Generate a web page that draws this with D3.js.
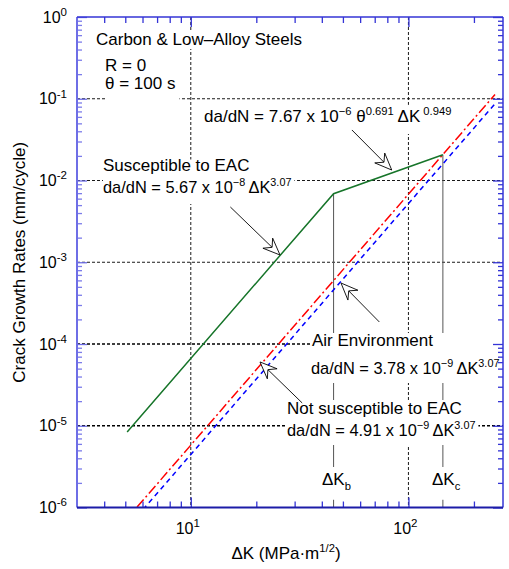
<!DOCTYPE html>
<html><head><meta charset="utf-8">
<script src="https://cdn.jsdelivr.net/npm/d3@7"></script>
<style>
body{margin:0;background:#fff}
svg{display:block}
text{font-family:"Liberation Sans",Arial,Helvetica,sans-serif;fill:#000;white-space:pre}
</style>
</head><body>
<svg id="c" width="509" height="569"></svg>
<script>
// ---------------- data ----------------
const xMajorTicks = [10, 100];
const xTickLabels = [["10", "1"], ["10", "2"]];
const xMinorTicks = [4, 5, 6, 7, 8, 9, 20, 30, 40, 50, 60, 70, 80, 90, 200];
const yMajorTicks = [1e-6, 1e-5, 1e-4, 1e-3, 1e-2, 1e-1, 1];
const yTickLabels = [["10", "-6"], ["10", "-5"], ["10", "-4"], ["10", "-3"], ["10", "-2"], ["10", "-1"], ["10", "0"]];
const yMinorMult = [2, 3, 4, 5, 6, 7, 8, 9];
const gridX = [10, 100];
const gridY = [1e-1, 1e-2, 1e-3, 1e-4, 1e-5];

// Air environment (blue dashed)
const airDK = [5, 250];
const airRate = [5.3e-7, 0.0869];
// Not susceptible to EAC (red dash-dot)
const notSusDK = [5, 250];
const notSusRate = [6.9e-7, 0.113];
// Susceptible to EAC (green), with the time-based segment
const susDK = [5.1, 45.3, 144];
const susRate = [8.4e-6, 6.9e-3, 2.07e-2];
const dKb = 45.3, dKc = 144;

// arrows: [tailDK, tailRate, tipDK, tipRate]
const arrows = [
  [55.0, 0.0415, 83.8, 0.01343],
  [15.2, 4.74e-3, 25.7, 1.227e-3],
  [73.5, 1.86e-4, 49.0, 5.57e-4],
  [32.5, 1.90e-5, 20.8, 6.03e-5]
];

// ---------------- layout ----------------
const svg = d3.select("#c");
const L = 77, R = 503, T = 17, B = 507.5;
const x = d3.scaleLog().domain([3, 272]).range([L, R]);
const y = d3.scaleLog().domain([1e-6, 1]).range([B, T]);
const FS = 17, FF = 16.4;

function rich(sel, xx, yy, str, size, anchor, supScale) {
  const sc = supScale || 0.66;
  const t = sel.append("text").attr("x", xx).attr("y", yy)
    .attr("font-size", size).attr("text-anchor", anchor || "start");
  const re = /(\^|_)\{([^}]*)\}/g;
  let last = 0, m; const parts = [];
  while ((m = re.exec(str))) {
    if (m.index > last) parts.push({ t: str.slice(last, m.index), k: 0 });
    parts.push({ t: m[2], k: m[1] === "^" ? 1 : -1 });
    last = re.lastIndex;
  }
  if (last < str.length) parts.push({ t: str.slice(last), k: 0 });
  let cur = 0;
  parts.forEach(p => {
    const target = p.k === 1 ? -0.42 * size : (p.k === -1 ? 0.28 * size : 0);
    const ts = t.append("tspan").text(p.t).attr("dy", target - cur);
    if (p.k) ts.attr("font-size", size * sc);
    cur = target;
  });
  return t;
}

// ---------------- grid ----------------
const grid = svg.append("g");
grid.selectAll("line.gx").data(gridX).join("line")
  .attr("x1", d => x(d)).attr("x2", d => x(d)).attr("y1", T).attr("y2", B)
  .attr("stroke", "#000").attr("stroke-width", 0.9).attr("stroke-dasharray", "3,2");
grid.selectAll("line.gy").data(gridY).join("line")
  .attr("x1", L).attr("x2", R).attr("y1", d => y(d)).attr("y2", d => y(d))
  .attr("stroke", "#000").attr("stroke-width", d => d <= 1e-4 ? 1.5 : 0.9)
  .attr("stroke-dasharray", "3,2");

// vertical ΔKb / ΔKc markers
const marks = svg.append("g");
marks.append("line").attr("x1", x(dKb)).attr("x2", x(dKb)).attr("y1", y(susRate[1])).attr("y2", B)
  .attr("stroke", "#555").attr("stroke-width", 1);
marks.append("line").attr("x1", x(dKc)).attr("x2", x(dKc)).attr("y1", y(susRate[2])).attr("y2", B)
  .attr("stroke", "#555").attr("stroke-width", 1);

// ---------------- annotation boxes ----------------
const ann = svg.append("g");
function block(lines, pads) {
  const g = ann.append("g");
  lines.forEach(l => rich(g, l[0], l[1], l[2], l[3] || FS, l[4]));
  const b = g.node().getBBox();
  g.insert("rect", ":first-child")
    .attr("x", b.x - pads[3]).attr("y", b.y - pads[0])
    .attr("width", b.width + pads[1] + pads[3]).attr("height", b.height + pads[0] + pads[2])
    .attr("fill", "#fff");
  return g;
}
const TS = "\u2009";
block([[96, 45, "Carbon & Low\u2013Alloy Steels"]], [0, 2, 0, 2]);
block([[105, 71, "R = 0"], [105, 89, "\u03b8 = 100 s"]], [0, 4, 8, 0]);
block([[204, 122, "da/dN = 7.67 x 10^{\u22126} \u03b8^{0.691} \u0394K^{ 0.949}"]], [0, 3, 8, 2]);
block([[103, 170.5, "Susceptible to EAC"], [103, 193, "da/dN = 5.67 x 10^{\u22128}" + TS + "\u0394K^{3.07}", FF]], [-4, 3, 8, 0]);
block([[312, 346, "Air Environment"], [311, 374, "da/dN = 3.78 x 10^{\u22129}" + TS + "\u0394K^{3.07}", FF]], [-2, 6, 6, 1]);
block([[287, 414, "Not susceptible to EAC"], [287, 436, "da/dN = 4.91 x 10^{\u22129}" + TS + "\u0394K^{3.07}", FF]], [-1, 3, 6, 1]);
block([[322, 485, "\u0394K_{b}"]], [3, 2, 8, 2]);
block([[432, 485, "\u0394K_{c}"]], [3, 2, 8, 2]);

// ---------------- data lines ----------------
svg.append("clipPath").attr("id", "clip").append("rect")
  .attr("x", L).attr("y", T).attr("width", R - L).attr("height", B - T);
const line = d3.line().x(d => x(d[0])).y(d => y(d[1]));
const plot = svg.append("g").attr("clip-path", "url(#clip)");
plot.append("path").attr("d", line(d3.zip(airDK, airRate)))
  .attr("fill", "none").attr("stroke", "#0000ff").attr("stroke-width", 1.5)
  .attr("stroke-dasharray", "5,4");
plot.append("path").attr("d", line(d3.zip(notSusDK, notSusRate)))
  .attr("fill", "none").attr("stroke", "#ff0000").attr("stroke-width", 1.5)
  .attr("stroke-dasharray", "10,3,2,3");
plot.append("path").attr("d", line(d3.zip(susDK, susRate)))
  .attr("fill", "none").attr("stroke", "#17752a").attr("stroke-width", 1.5);

// ---------------- arrows ----------------
const ag = svg.append("g");
arrows.forEach(a => {
  const x0 = x(a[0]), y0 = y(a[1]), x1 = x(a[2]), y1 = y(a[3]);
  const ang = Math.atan2(y1 - y0, x1 - x0);
  const c = Math.cos(ang), s = Math.sin(ang);
  const P = (u, v) => [x1 + u * c - v * s, y1 + u * s + v * c];
  const notch = P(-11, 0);
  ag.append("line").attr("x1", x0).attr("y1", y0).attr("x2", notch[0]).attr("y2", notch[1])
    .attr("stroke", "#000").attr("stroke-width", 0.9);
  ag.append("polygon").attr("points", [P(0, 0), P(-17, -7), notch, P(-17, 7)].map(p => p.join(",")).join(" "))
    .attr("fill", "#fff").attr("stroke", "#000").attr("stroke-width", 0.9);
});

// ---------------- axes ----------------
const axCol = "#3434d6";
function styleAxis(g, col) {
  g.select(".domain").remove();
  g.selectAll("line").attr("stroke", col).attr("stroke-width", 1.3);
  g.selectAll("text").remove();
}
const yMinorTicks = [];
yMajorTicks.slice(0, -1).forEach(d => yMinorMult.forEach(k => yMinorTicks.push(d * k)));

// bottom
svg.append("g").attr("transform", `translate(0,${B})`)
  .call(d3.axisBottom(x).tickValues(xMajorTicks).tickSize(-10).tickFormat(""))
  .call(g => styleAxis(g, axCol));
svg.append("g").attr("transform", `translate(0,${B})`)
  .call(d3.axisBottom(x).tickValues(xMinorTicks).tickSize(-6).tickFormat(""))
  .call(g => styleAxis(g, axCol));
// top
svg.append("g").attr("transform", `translate(0,${T})`)
  .call(d3.axisTop(x).tickValues(xMajorTicks).tickSize(-10).tickFormat(""))
  .call(g => styleAxis(g, axCol));
svg.append("g").attr("transform", `translate(0,${T})`)
  .call(d3.axisTop(x).tickValues(xMinorTicks).tickSize(-6).tickFormat(""))
  .call(g => styleAxis(g, axCol));
// left
svg.append("g").attr("transform", `translate(${L},0)`)
  .call(d3.axisLeft(y).tickValues(yMajorTicks).tickSize(-10).tickFormat(""))
  .call(g => styleAxis(g, "#6e6ee6"));
svg.append("g").attr("transform", `translate(${L},0)`)
  .call(d3.axisLeft(y).tickValues(yMinorTicks).tickSize(-5).tickFormat(""))
  .call(g => styleAxis(g, "#7c7cea"));
// right
svg.append("g").attr("transform", `translate(${R},0)`)
  .call(d3.axisRight(y).tickValues(yMajorTicks).tickSize(-10).tickFormat(""))
  .call(g => styleAxis(g, axCol));
svg.append("g").attr("transform", `translate(${R},0)`)
  .call(d3.axisRight(y).tickValues(yMinorTicks).tickSize(-5).tickFormat(""))
  .call(g => styleAxis(g, axCol));

// frame
svg.append("line").attr("x1", L).attr("x2", L).attr("y1", T).attr("y2", B).attr("stroke", "#6e6ee6").attr("stroke-width", 2);
svg.append("line").attr("x1", L).attr("x2", R).attr("y1", T).attr("y2", T).attr("stroke", axCol).attr("stroke-width", 1.5);
svg.append("line").attr("x1", R).attr("x2", R).attr("y1", T).attr("y2", B).attr("stroke", axCol).attr("stroke-width", 1.5);
svg.append("line").attr("x1", L).attr("x2", R).attr("y1", B).attr("y2", B).attr("stroke", "#1c1ca8").attr("stroke-width", 2);

// tick labels
const TL = 16;
xMajorTicks.forEach((d, i) => {
  rich(svg, x(d) - 3, 534, xTickLabels[i][0] + "^{" + xTickLabels[i][1] + "}", TL, "middle", 0.72);
});
yMajorTicks.forEach((d, i) => {
  rich(svg, 67, y(d) + 5.5, yTickLabels[i][0] + "^{" + yTickLabels[i][1] + "}", TL, "end", 0.72);
});

// axis titles
rich(svg, 286, 559, "\u0394K (MPa\u00b7m^{1/2})", FS, "middle");
svg.append("text").attr("transform", `translate(25,${(T + B) / 2}) rotate(-90)`)
  .attr("text-anchor", "middle").attr("font-size", FS).text("Crack Growth Rates (mm/cycle)");
</script>
</body></html>
